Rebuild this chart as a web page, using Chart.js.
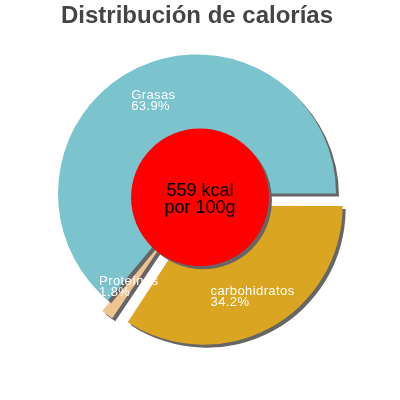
<!DOCTYPE html>
<html>
<head>
<meta charset="utf-8">
<script src="https://cdn.jsdelivr.net/npm/chart.js@4"></script>
<style>
  html, body { margin: 0; padding: 0; background: #fff; }
</style>
</head>
<body>
<canvas id="calChart" width="400" height="400"></canvas>
<script>
const ctx = document.getElementById("calChart").getContext("2d");

const titleText = "Distribución de calorías";
const categories = ["carbohidratos", "Proteínas", "Grasas"];
const percents = [34.2, 1.8, 63.9];
const colors = ["#daa520", "#eec591", "#7bc4cd"];
const explode = [14, 12, 0]; // px the slice is pulled out
const kcal = 559;
const perText = "por 100g";

const fontFamily = "'Liberation Sans', Arial, sans-serif";

// chart.js v4 moves an arc by offset/4 and also grows its radius
// for narrow slices; this is how much it grows
function arcGrowth(arc, i) {
  const circ = arc.endAngle - arc.startAngle;
  return explode[i] * (1 - Math.sin(Math.min(Math.PI, circ)));
}

// gray drop shadow under the slices, and keep exploded slices at full radius
const shadowPlugin = {
  id: "shadow",
  beforeDatasetsDraw(chart) {
    const arcs = chart.getDatasetMeta(0).data;
    arcs.forEach((arc, i) => {
      arc._r0 = arc.outerRadius;
      arc.outerRadius = arc._r0 - arcGrowth(arc, i);
    });
    const c = chart.ctx;
    c.save();
    c.shadowColor = "#666";
    c.shadowBlur = 0;
    c.shadowOffsetX = 3;
    c.shadowOffsetY = 3;
  },
  afterDatasetsDraw(chart) {
    chart.ctx.restore();
    chart.getDatasetMeta(0).data.forEach((arc) => {
      arc.outerRadius = arc._r0;
    });
  },
};

// red disc with energy text, and the slice labels
const labelPlugin = {
  id: "labels",
  afterDatasetsDraw(chart) {
    const c = chart.ctx;
    const arcs = chart.getDatasetMeta(0).data;
    const cx = arcs[0].x;
    const cy = arcs[0].y;
    const R = arcs[2].outerRadius;

    // center disc
    const dx = cx + 3;
    const dy = cy + 4;
    const dr = R * 0.496;
    c.save();
    c.shadowColor = "#666";
    c.shadowOffsetX = 3;
    c.shadowOffsetY = 3;
    c.fillStyle = "#ff0000";
    c.beginPath();
    c.arc(dx, dy, dr, 0, Math.PI * 2);
    c.fill();
    c.restore();

    c.save();
    c.fillStyle = "#000";
    c.font = "18px " + fontFamily;
    c.textAlign = "center";
    c.textBaseline = "alphabetic";
    c.fillText(kcal + " kcal", dx, dy - 1.5);
    c.fillText(perText, dx, dy + 16);
    c.restore();

    // slice labels
    c.save();
    c.fillStyle = "#fff";
    c.font = "13px " + fontFamily;
    c.letterSpacing = "0.4px";
    c.textAlign = "left";
    c.textBaseline = "alphabetic";
    arcs.forEach((arc, i) => {
      const mid = (arc.startAngle + arc.endAngle) / 2;
      const r = R * 0.74 + explode[i];
      const lx = cx + Math.cos(mid) * r;
      const ly = cy + Math.sin(mid) * r;
      const l1 = categories[i];
      const l2 = percents[i].toFixed(1) + "%";
      const w = Math.max(c.measureText(l1).width, c.measureText(l2).width);
      const x0 = lx - w / 2;
      const b1 = ly - 0.85;
      c.fillText(l1, x0, b1);
      c.fillText(l2, x0, b1 + 11);
    });
    c.restore();
  },
};

new Chart(ctx, {
  type: "pie",
  data: {
    labels: categories,
    datasets: [
      {
        data: percents,
        backgroundColor: colors,
        borderWidth: 0,
        offset: explode.map((v) => v * 4),
        radius: 139,
      },
    ],
  },
  options: {
    responsive: false,
    animation: false,
    devicePixelRatio: 1,
    rotation: 90,
    layout: {
      padding: { top: 0, bottom: 44, left: 0, right: 6 },
    },
    plugins: {
      legend: { display: false },
      tooltip: { enabled: false },
      title: {
        display: true,
        text: titleText,
        color: "#444",
        font: { family: fontFamily, size: 24, weight: "bold" },
        padding: { top: 2, bottom: 0 },
      },
    },
  },
  plugins: [shadowPlugin, labelPlugin],
});
</script>
</body>
</html>
